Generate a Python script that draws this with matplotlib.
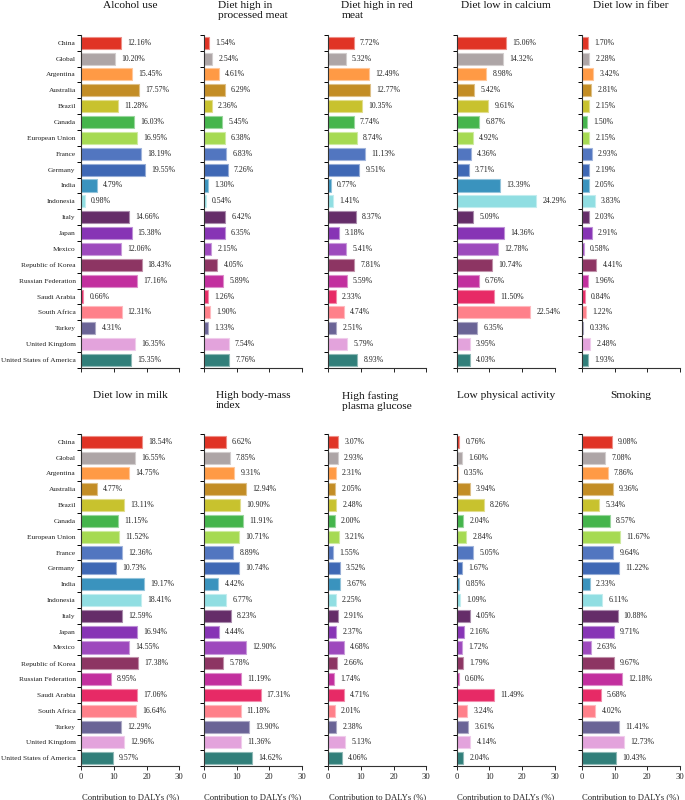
import matplotlib
matplotlib.use("Agg")
import matplotlib.pyplot as plt
import matplotlib.colors as mcolors
import numpy as np

plt.rcParams['font.family'] = ['Liberation Serif', 'DejaVu Serif']

countries = ["China", "Global", "Argentina", "Australia", "Brazil", "Canada",
             "European Union", "France", "Germany", "India", "Indonesia", "Italy",
             "Japan", "Mexico", "Republic of Korea", "Russian Federation",
             "Saudi Arabia", "South Africa", "Turkey", "United Kingdom",
             "United States of America"]

colors = ["#E03325", "#ADA5A6", "#FF9A45", "#C38D25", "#C8C22E", "#45B54C",
          "#A6DA52", "#5276C0", "#3F68B5", "#3A93BE", "#90DEE2", "#652D69",
          "#8734B5", "#9D49BD", "#8D3563", "#C22F9E", "#E72A66", "#FF808A",
          "#6A6496", "#E3A3DC", "#317F7A"]

alcohol = [12.16, 10.20, 15.45, 17.57, 11.28, 16.03, 16.95, 18.19, 19.55, 4.79, 0.98,
           14.66, 15.38, 12.06, 18.43, 17.16, 0.66, 12.31, 4.31, 16.35, 15.35]
processed_meat = [1.54, 2.54, 4.61, 6.29, 2.36, 5.45, 6.38, 6.83, 7.26, 1.30, 0.54,
                  6.42, 6.35, 2.15, 4.05, 5.89, 1.26, 1.90, 1.33, 7.54, 7.76]
red_meat = [7.72, 5.32, 12.49, 12.77, 10.35, 7.74, 8.74, 11.13, 9.51, 0.77, 1.41,
            8.37, 3.18, 5.41, 7.81, 5.59, 2.33, 4.74, 2.51, 5.79, 8.93]
calcium = [15.06, 14.32, 8.98, 5.42, 9.61, 6.87, 4.92, 4.36, 3.71, 13.39, 24.29,
           5.09, 14.36, 12.78, 10.74, 6.76, 11.50, 22.54, 6.35, 3.95, 4.03]
fiber = [1.70, 2.28, 3.42, 2.81, 2.15, 1.50, 2.15, 2.93, 2.19, 2.05, 3.83,
         2.03, 2.91, 0.58, 4.41, 1.96, 0.84, 1.22, 0.33, 2.48, 1.93]
milk = [18.54, 16.55, 14.75, 4.77, 13.11, 11.15, 11.52, 12.36, 10.73, 19.17, 18.41,
        12.59, 16.94, 14.55, 17.38, 8.95, 17.06, 16.64, 12.29, 12.96, 9.57]
bmi = [6.62, 7.85, 9.31, 12.94, 10.90, 11.91, 10.71, 8.89, 10.74, 4.42, 6.77,
       8.23, 4.44, 12.90, 5.78, 11.19, 17.31, 11.18, 13.90, 11.36, 14.62]
fpg = [3.07, 2.93, 2.31, 2.05, 2.48, 2.00, 3.21, 1.55, 3.52, 3.67, 2.25,
       2.91, 2.37, 4.68, 2.66, 1.74, 4.71, 2.01, 2.38, 5.13, 4.06]
physical = [0.76, 1.60, 0.35, 3.94, 8.26, 2.04, 2.84, 5.05, 1.67, 0.85, 1.09,
            4.05, 2.16, 1.72, 1.79, 0.60, 11.49, 3.24, 3.61, 4.14, 2.04]
smoking = [9.08, 7.08, 7.86, 9.36, 5.34, 8.57, 11.67, 9.64, 11.22, 2.33, 6.11,
           10.88, 9.71, 2.63, 9.67, 12.18, 5.68, 4.02, 11.41, 12.73, 10.43]

titles = ["Alcohol use", "Diet high in\nprocessed meat", "Diet high in red\nmeat",
          "Diet low in calcium", "Diet low in fiber",
          "Diet low in milk", "High body-mass\nindex", "High fasting\nplasma glucose",
          "Low physical activity", "Smoking"]
series = [alcohol, processed_meat, red_meat, calcium, fiber,
          milk, bmi, fpg, physical, smoking]
xticks = [0, 10, 20, 30]
xlabel = "Contribution to DALYs (%)"

W, H = 685, 800
fig = plt.figure(figsize=(W / 100, H / 100), dpi=100)

lefts = [81.3, 204.0, 328.3, 456.7, 582.0]
width = 98.0
rows = [(34.8, 367.9), (433.8, 766.2)]
title_top = [1.0, 391.0]

def edge_of(c):
    r, g, b = mcolors.to_rgb(c)
    return (r + (1 - r) * 0.45, g + (1 - g) * 0.45, b + (1 - b) * 0.45)

n = len(countries)
y = np.arange(n)
for i, (title, vals) in enumerate(zip(titles, series)):
    r, c = divmod(i, 5)
    top, bot = rows[r]
    ax = fig.add_axes([lefts[c] / W, 1 - bot / H, width / W, (bot - top) / H])
    ax.barh(y, vals, height=0.76, color=colors,
            edgecolor=[edge_of(cc) for cc in colors], linewidth=0.8, zorder=2)
    for yi, v in zip(y, vals):
        ax.annotate(f"{v:.2f}%", (v, yi), xytext=(4.5, 0), textcoords="offset points",
                    ha="left", va="center", fontsize=5.6, color="#222222")
    ax.set_xlim(0, 30)
    ax.set_ylim(n - 0.5, -0.5)
    ax.set_xticks(xticks)
    ax.set_yticks(y)
    ax.set_yticks(np.arange(n + 1) - 0.5, minor=True)
    ax.tick_params(axis="y", which="major", length=0, pad=4)
    ax.tick_params(axis="y", which="minor", length=3, width=0.7, direction="out")
    ax.tick_params(axis="x", which="major", length=3, width=0.7, direction="out",
                   labelsize=6.2, pad=2, colors="#222222")
    if c == 0:
        ax.set_yticklabels(countries, fontsize=5.3, color="#222222")
    else:
        ax.set_yticklabels([])
    if r == 0:
        ax.set_xticklabels([])
    else:
        ax.set_xlabel(xlabel, fontsize=6.2, color="#222222", labelpad=9)
    for s in ["top", "right"]:
        ax.spines[s].set_visible(False)
    for s in ["left", "bottom"]:
        ax.spines[s].set_linewidth(0.8)
        ax.spines[s].set_color("#333333")
    fig.text((lefts[c] + width / 2) / W, 1 - title_top[r] / H, title,
             ha="center", va="top", multialignment="left", fontsize=8.2,
             color="#111111", linespacing=1.15)

fig.savefig("out.png", dpi=100)
